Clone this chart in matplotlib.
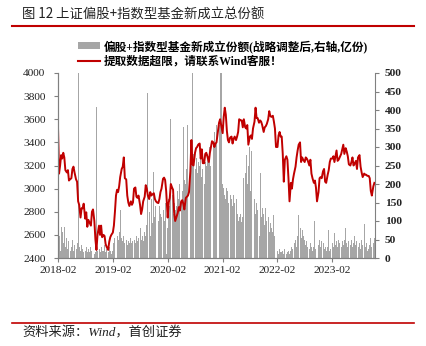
import matplotlib.pyplot as plt
import matplotlib.dates as mdates
import pandas as pd
from matplotlib.lines import Line2D
from matplotlib.patches import Patch
from matplotlib.font_manager import FontProperties

# 上证指数, four readings per month (Feb 2018 - Nov 2023)
sse_2018 = [3530, 3130, 3200, 3290, 3260, 3310, 3270, 3160, 3140, 3160, 3070, 3080,
            3090, 3170, 3190, 3140, 3080, 3060, 2890, 2860, 2750, 2830, 2830, 2870,
            2740, 2795, 2670, 2730, 2700, 2680, 2800, 2820, 2720, 2560, 2470, 2600,
            2680, 2600, 2680, 2580, 2600, 2590, 2520, 2495]
sse_2019 = [2470, 2540, 2580, 2600, 2620, 2680, 2800, 2940, 2990, 2970, 3020, 3100,
            3170, 3190, 3270, 3090, 3080, 2940, 2880, 2850, 2890, 2860, 2880, 3000,
            3010, 2930, 2920, 2940, 2860, 2780, 2820, 2890, 2930, 3030, 3000, 2940,
            2910, 2970, 2940, 2950, 2960, 2910, 2890, 2880, 2875, 2910, 2970, 3000]
sse_2020 = [3085, 3095, 3075, 2980, 2750, 2880, 2920, 3040, 3010, 2990, 2790, 2720,
            2760, 2790, 2840, 2810, 2890, 2900, 2870, 2820, 2920, 2930, 2940, 2970,
            3150, 3420, 3210, 3200, 3310, 3350, 3360, 3380, 3390, 3260, 3340, 3220,
            3220, 3300, 3310, 3280, 3230, 3310, 3360, 3410, 3400, 3360, 3390, 3400]
sse_2021 = [3500, 3570, 3600, 3550, 3480, 3620, 3700, 3640, 3500, 3420, 3400, 3440,
            3450, 3390, 3430, 3450, 3420, 3450, 3490, 3600, 3590, 3590, 3530, 3600,
            3530, 3520, 3550, 3380, 3450, 3460, 3430, 3520, 3580, 3700, 3610, 3610,
            3570, 3590, 3580, 3550, 3490, 3530, 3540, 3560, 3600, 3670, 3630, 3620]
sse_2022 = [3630, 3580, 3520, 3360, 3360, 3460, 3490, 3450, 3450, 3300, 3060, 3250,
            3280, 3250, 3090, 2890, 3050, 3000, 3080, 3130, 3190, 3270, 3330, 3380,
            3400, 3230, 3270, 3250, 3230, 3270, 3260, 3240, 3200, 3250, 3130, 3090,
            3050, 3070, 3010, 2890, 2970, 3090, 3100, 3090, 3150, 3170, 3060, 3050]
sse_2023 = [3120, 3160, 3230, 3260, 3260, 3280, 3230, 3280, 3330, 3240, 3250, 3270,
            3300, 3340, 3380, 3300, 3350, 3320, 3280, 3210, 3200, 3230, 3270, 3200,
            3220, 3240, 3170, 3270, 3290, 3190, 3140, 3100, 3130, 3120, 3120, 3110,
            3110, 3090, 2980, 2940, 3020, 3050]

# 偏股+指数型基金新成立份额 (亿份), same dates
new_2018 = [90, 60, 20, 85, 70, 40, 85, 30, 55, 25, 45, 20,
            30, 50, 20, 35, 25, 40, 520, 30, 20, 35, 25, 15,
            20, 30, 15, 25, 15, 30, 20, 15, 10, 15, 408, 20,
            25, 15, 30, 20, 20, 35, 15, 25]
new_2019 = [15, 30, 20, 10, 20, 40, 55, 45, 60, 50, 70, 130,
            55, 45, 60, 40, 50, 35, 45, 40, 55, 40, 45, 50,
            40, 60, 45, 55, 80, 50, 60, 45, 70, 60, 90, 446,
            124, 60, 160, 95, 232, 110, 140, 120, 100, 140, 120, 110]
new_2020 = [130, 100, 150, 10, 80, 160, 140, 376, 170, 120, 150, 130,
            140, 180, 160, 200, 150, 180, 354, 210, 200, 240, 359, 250,
            260, 300, 520, 280, 240, 270, 230, 260, 250, 290, 220, 240,
            200, 260, 250, 280, 270, 300, 250, 330, 300, 340, 310, 360]
new_2021 = [300, 360, 520, 540, 200, 190, 170, 160, 190, 180, 150, 170,
            160, 140, 170, 150, 160, 120, 100, 110, 120, 97, 110, 216,
            230, 278, 200, 250, 300, 180, 290, 140, 160, 120, 150, 130,
            60, 230, 110, 135, 120, 90, 135, 100, 110, 70, 95, 80]
new_2022 = [70, 116, 60, 80, 20, 10, 25, 15, 15, 20, 10, 25,
            10, 15, 20, 10, 20, 30, 25, 40, 50, 30, 60, 116,
            80, 55, 75, 60, 50, 35, 45, 30, 25, 40, 30, 20,
            30, 100, 25, 40, 35, 50, 30, 45, 40, 25, 30, 20]
new_2023 = [30, 76, 20, 25, 40, 30, 68, 35, 45, 30, 50, 40,
            30, 45, 35, 50, 81, 40, 30, 45, 35, 50, 30, 40,
            60, 35, 45, 30, 40, 25, 50, 35, 93, 30, 40, 20,
            25, 35, 54, 30, 40, 55]

sse_close = sse_2018 + sse_2019 + sse_2020 + sse_2021 + sse_2022 + sse_2023
new_share = new_2018 + new_2019 + new_2020 + new_2021 + new_2022 + new_2023

months = pd.date_range("2018-02-01", periods=70, freq="MS")
dates = [m + pd.Timedelta(days=7 * k) for m in months for k in range(4)][:len(sse_close)]

RED = "#C00000"
GRAY = "#A6A6A6"
serif = ["Liberation Serif", "Noto Sans CJK SC"]

fig = plt.figure(figsize=(4.27, 3.46), dpi=100)
ax = fig.add_axes([58 / 427, 1 - 258 / 346, 317 / 427, 185 / 346])
ax2 = ax.twinx()
ax.set_zorder(ax2.get_zorder() + 1)
ax.patch.set_visible(False)

ax2.bar(dates, new_share, width=6.5, color=GRAY, linewidth=0)
ax.plot(dates, sse_close, color=RED, lw=1.4)

ax.set_xlim(pd.Timestamp("2018-02-01"), pd.Timestamp("2023-11-12"))
ax.set_ylim(2400, 4000)
ax2.set_ylim(0, 500)
ax.set_yticks(range(2400, 4001, 200))
ax2.set_yticks(range(0, 501, 50))
ax.set_xticks(pd.date_range("2018-02-01", "2023-02-01", freq="12MS"))
ax.xaxis.set_major_formatter(mdates.DateFormatter("%Y-%m"))

for a in (ax, ax2):
    for s in a.spines.values():
        s.set_color("#808080")
        s.set_linewidth(0.8)
    a.spines["top"].set_visible(False)
ax.spines["right"].set_visible(False)

ax.tick_params(axis="y", direction="out", length=3, width=0.8, color="#808080", pad=6,
               labelsize=8.2, labelcolor="#222222")
ax.tick_params(axis="x", direction="out", length=3, width=0.8, color="#808080", pad=3,
               labelsize=8.2, labelcolor="#222222")
ax2.tick_params(axis="y", direction="out", length=3, width=0.8, color="#808080", pad=4,
                labelsize=8.2, labelcolor="#222222")
for lab in ax.get_xticklabels() + ax.get_yticklabels():
    lab.set_family("Liberation Serif")
for lab in ax2.get_yticklabels():
    lab.set_family("Liberation Serif")
    lab.set_weight("bold")

fig.legend(handles=[Patch(facecolor=GRAY), Line2D([], [], color=RED, lw=1.5)],
           labels=["偏股+指数型基金新成立份额(战略调整后,右轴,亿份)", "提取数据超限，请联系Wind客服！"],
           loc="upper left", bbox_to_anchor=(78 / 427, 1 - 40 / 346), frameon=False,
           prop=FontProperties(family=serif, weight="bold", size=8.4),
           handlelength=1.9, handleheight=0.5, handletextpad=0.3, labelspacing=0.25,
           borderpad=0, borderaxespad=0)

fig.text(22 / 427, 1 - 15 / 346, "图 12 上证偏股+指数型基金新成立总份额",
         family=["Noto Sans CJK SC", "DejaVu Sans"], size=9.6, va="center", color="#222222")
fig.add_artist(Line2D([12 / 427, 414 / 427], [1 - 26 / 346] * 2, color=RED, lw=1.5,
                      transform=fig.transFigure))
fig.add_artist(Line2D([12 / 427, 414 / 427], [1 - 323 / 346] * 2, color=RED, lw=1.2,
                      transform=fig.transFigure))
fig.text(22 / 427, 1 - 333 / 346, "资料来源：Wind，首创证券", family=serif, style="italic",
         size=9.5, va="center", color="#222222")

fig.savefig("out.png", dpi=100)
